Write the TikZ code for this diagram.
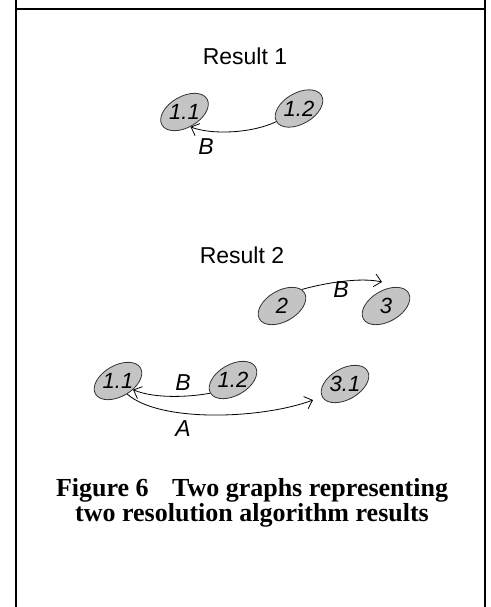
\documentclass[tikz,border=0pt]{standalone}
\usepackage{fontspec}
\setmainfont{Liberation Serif}
\setsansfont{Liberation Sans}
\usetikzlibrary{positioning,arrows.meta,shapes.geometric}
\definecolor{nodegray}{HTML}{C4C4C4}
\definecolor{rimgray}{HTML}{333333}

\begin{document}
\begin{tikzpicture}[x=1pt,y=-1pt,
    blob/.style={ellipse, draw=rimgray, fill=nodegray, line width=0.8pt,
      minimum width=52pt, minimum height=31pt, inner sep=0pt, rotate=30},
    blobtext/.style={font=\fontsize{22}{22}\selectfont\sffamily\itshape, inner sep=0pt},
    edgelabel/.style={font=\fontsize{23}{23}\selectfont\sffamily\itshape, inner sep=0pt},
    heading/.style={font=\fontsize{23}{23}\selectfont\sffamily, inner sep=0pt},
    link/.style={-{Straight Barb[length=7pt,width=13pt]}, line width=0.8pt}
  ]
  \useasboundingbox (0,0) rectangle (490,607);
  % Frame
  \draw[line width=2.8pt] (16,0) -- (16,607) (485,0) -- (485,607) (16,9) -- (485,9);

  % Result 1
  \node[heading] (head1) at (245,56) {Result 1};
  \node[blob] (r1a) at (184.5,112) {};
  \node[blobtext] at (r1a) {1.1};
  \node[blob] (r1b) at (299,108.5) {};
  \node[blobtext] at (r1b) {1.2};
  \draw[link] (r1b.180) .. controls +(-25,12) and +(20,8) .. (r1a.-98);
  \node[edgelabel] (lab1) at (206,147) {B};

  % Result 2
  \node[heading] (head2) at (242,255) {Result 2};
  \node[blob] (r2two) at (282,306) {};
  \node[blobtext] at (r2two) {2};
  \node[blob] (r2three) at (386,306) {};
  \node[blobtext] at (r2three) {3};
  \coordinate (r2end) at (382,282);
  \draw[link] (r2two.10) .. controls (325,283) and (360,277) .. (r2end);
  \node[edgelabel] (lab2) at (341,290) {B};

  \node[blob] (r2a) at (118,381) {};
  \node[blobtext] at (r2a) {1.1};
  \node[blob] (r2b) at (233,380) {};
  \node[blobtext] at (r2b) {1.2};
  \node[blob] (r2c) at (345,384) {};
  \node[blobtext] at (r2c) {3.1};
  \draw[link] (r2b.180) .. controls (190,397) and (155,399) .. (r2a.-60);
  \node[edgelabel] (lab3) at (183,383) {B};
  \coordinate (r2aend) at (313,400);
  \draw[link] (r2a.-85) .. controls (160,423) and (262,419) .. (r2aend);
  \node[edgelabel] (lab4) at (183,429) {A};

  % Caption
  \node[font=\fontsize{26}{21}\selectfont\bfseries, align=center, inner sep=0pt] (caption)
    at (252,503) {Figure 6\hspace{0.9em}Two graphs representing\\two resolution algorithm results};
\end{tikzpicture}
\end{document}
